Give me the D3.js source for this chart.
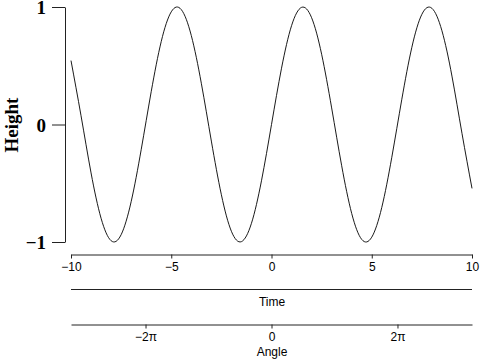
<!DOCTYPE html>
<html>
<head>
<meta charset="utf-8">
<script src="https://cdn.jsdelivr.net/npm/d3@7"></script>
<style>
body { margin: 0; background: #fff; }
svg { display: block; }
</style>
</head>
<body>
<script>
// curve samples, every 0.5 along Time
var timeValues = [-10, -9.5, -9, -8.5, -8, -7.5, -7, -6.5, -6, -5.5, -5, -4.5, -4, -3.5, -3, -2.5, -2, -1.5, -1, -0.5,
	0, 0.5, 1, 1.5, 2, 2.5, 3, 3.5, 4, 4.5, 5, 5.5, 6, 6.5, 7, 7.5, 8, 8.5, 9, 9.5, 10];
var heightValues = [0.544, 0.075, -0.412, -0.798, -0.989, -0.938, -0.657, -0.215, 0.279, 0.706, 0.959, 0.978, 0.757, 0.351,
	-0.141, -0.598, -0.909, -0.997, -0.841, -0.479, 0, 0.479, 0.841, 0.997, 0.909, 0.598, 0.141, -0.351, -0.757, -0.978,
	-0.959, -0.706, -0.279, 0.215, 0.657, 0.938, 0.989, 0.798, 0.412, -0.075, -0.544];
var heightTicks = [-1, 0, 1];
var timeTicks = [-10, -5, 0, 5, 10];
var angleTicks = [-2 * Math.PI, 0, 2 * Math.PI];
var angleTickLabels = ["\u22122\u03c0", "0", "2\u03c0"];

var data = timeValues.map(function (t, i) { return { t: t, h: heightValues[i] }; });

var width = 480, height = 360;
var svg = d3.select("body").append("svg")
	.attr("width", width)
	.attr("height", height);

var xScale = d3.scaleLinear().domain([-10, 10]).range([71, 472]);
var yScale = d3.scaleLinear().domain([-1, 1]).range([242, 7]);

// y axis (bold serif, like base R)
var yAxis = svg.append("g")
	.attr("transform", "translate(65,0)")
	.call(d3.axisLeft(yScale).tickValues(heightTicks).tickSize(13).tickSizeOuter(0)
		.tickFormat(function (d) { return d === -1 ? "\u22121" : String(d); }));
yAxis.select(".domain").attr("stroke", "#222");
yAxis.selectAll(".tick line").attr("stroke", "#222");
yAxis.selectAll(".tick text")
	.attr("x", -19)
	.attr("dy", "0.36em")
	.attr("font-family", "'Liberation Serif', 'DejaVu Serif', serif")
	.attr("font-weight", "bold")
	.attr("font-size", 19)
	.attr("fill", "#000");

svg.append("text")
	.attr("transform", "translate(18,125) rotate(-90)")
	.attr("text-anchor", "middle")
	.attr("font-family", "'Liberation Serif', 'DejaVu Serif', serif")
	.attr("font-weight", "bold")
	.attr("font-size", 19)
	.text("Height");

// the curve
var line = d3.line()
	.x(function (d) { return xScale(d.t); })
	.y(function (d) { return yScale(d.h); })
	.curve(d3.curveNatural);

svg.append("path")
	.datum(data)
	.attr("d", line)
	.attr("fill", "none")
	.attr("stroke", "#000")
	.attr("stroke-width", 0.9);

function styleBottom(g) {
	g.select(".domain").attr("stroke", "#222");
	g.selectAll(".tick line").attr("stroke", "#222");
	g.selectAll(".tick text")
		.attr("font-family", "'Liberation Sans', Arial, sans-serif")
		.attr("font-size", 12)
		.attr("fill", "#000");
}

// time axis
var timeAxis = svg.append("g")
	.attr("transform", "translate(0,254.5)")
	.call(d3.axisBottom(xScale).tickValues(timeTicks).tickSize(4).tickSizeOuter(0));
styleBottom(timeAxis);
timeAxis.selectAll(".tick text").attr("y", 8);

// plain line with Time label
svg.append("line")
	.attr("x1", 71).attr("x2", 472)
	.attr("y1", 289.5).attr("y2", 289.5)
	.attr("stroke", "#222");
svg.append("text")
	.attr("x", 272).attr("y", 306)
	.attr("text-anchor", "middle")
	.attr("font-family", "'Liberation Sans', Arial, sans-serif")
	.attr("font-size", 12)
	.text("Time");

// angle axis
var angleScale = d3.scaleLinear().domain([-10, 10]).range([71, 472]);
var angleAxis = svg.append("g")
	.attr("transform", "translate(0,324.5)")
	.call(d3.axisBottom(angleScale).tickValues(angleTicks).tickSize(4).tickSizeOuter(0)
		.tickFormat(function (d, i) { return angleTickLabels[i]; }));
styleBottom(angleAxis);
angleAxis.selectAll(".tick text").attr("y", 8);

svg.append("text")
	.attr("x", 272).attr("y", 356)
	.attr("text-anchor", "middle")
	.attr("font-family", "'Liberation Sans', Arial, sans-serif")
	.attr("font-size", 12)
	.text("Angle");
</script>
</body>
</html>
